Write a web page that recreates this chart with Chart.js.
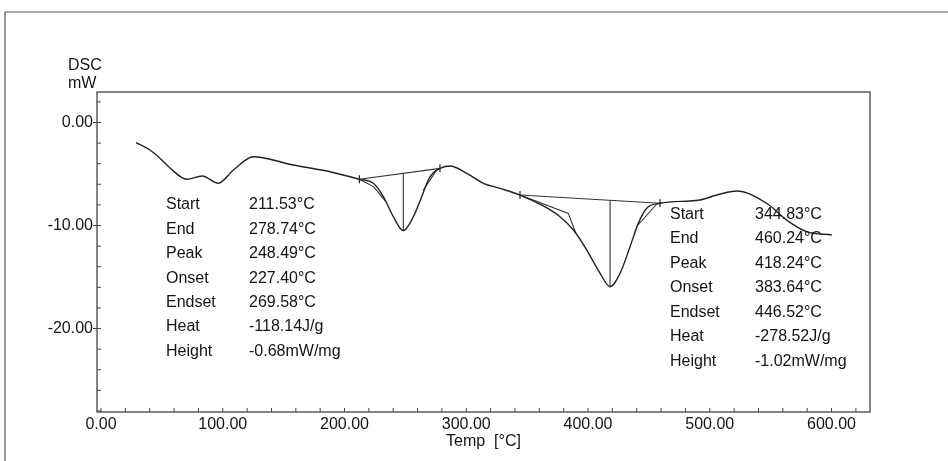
<!DOCTYPE html>
<html>
<head>
<meta charset="utf-8">
<script src="https://cdn.jsdelivr.net/npm/chart.js@4.4.1/dist/chart.umd.min.js"></script>
<style>
  html, body { margin: 0; padding: 0; background: #fff; }
  #wrap { width: 948px; height: 461px; position: relative; }
</style>
</head>
<body>
<div id="wrap"><canvas id="myChart"></canvas></div>
<script>
// DSC trace
var tempC = [28.7, 40.2, 48.4, 56.7, 70.4, 83.2, 96.3, 108.7, 125.1, 157.9, 188.1,
  212.2, 223.7, 231.9, 240.1, 248.3, 256.5, 263.4, 268.8, 272.9, 278.4,
  286.6, 300.4, 314.0, 327.7, 344.1, 363.3, 377.0, 388.0, 399.0, 409.9,
  418.1, 426.3, 434.5, 441.3, 448.2, 459.1, 491.9, 505.7, 522.1, 546.7,
  563.2, 579.6, 600.2];
var dscMw = [-1.96, -2.67, -3.48, -4.42, -5.51, -5.19, -5.90, -4.61, -3.32, -4.13, -4.78,
  -5.51, -5.90, -7.20, -9.15, -10.50, -9.15, -7.20, -5.58, -4.87, -4.45,
  -4.22, -4.93, -5.90, -6.39, -7.04, -8.10, -9.15, -10.44, -12.38, -14.64,
  -15.94, -14.64, -12.06, -9.79, -8.33, -7.84, -7.52, -7.04, -6.65, -7.84,
  -9.47, -10.60, -10.92];

// peak 1 construction lines
var base1X = [212.2, 278.4], base1Y = [-5.51, -4.45];
var drop1X = [248.3, 248.3], drop1Y = [-4.93, -10.50];
var tanL1X = [212.2, 224.0, 233.5], tanL1Y = [-5.51, -6.25, -7.60];
var tanR1X = [264.5, 275.5, 278.4], tanR1Y = [-6.60, -4.65, -4.45];
// peak 2 construction lines
var base2X = [344.1, 459.1], base2Y = [-7.04, -7.84];
var drop2X = [418.1, 418.1], drop2Y = [-7.55, -15.94];
var tanL2X = [344.1, 383.8, 390.0], tanL2Y = [-7.04, -8.82, -10.75];
var tanR2X = [441.5, 456.4, 459.1], tanR2Y = [-9.90, -7.91, -7.84];

var markX = [212.2, 278.4, 344.1, 459.1];
var markY = [-5.51, -4.45, -7.04, -7.84];

var xTicks = [0, 100, 200, 300, 400, 500, 600];
var yTicks = [-20, -10, 0];

var peak1Names = ["Start", "End", "Peak", "Onset", "Endset", "Heat", "Height"];
var peak1Vals = ["211.53°C", "278.74°C", "248.49°C", "227.40°C", "269.58°C", "-118.14J/g", "-0.68mW/mg"];
var peak2Names = ["Start", "End", "Peak", "Onset", "Endset", "Heat", "Height"];
var peak2Vals = ["344.83°C", "460.24°C", "418.24°C", "383.64°C", "446.52°C", "-278.52J/g", "-1.02mW/mg"];

function pts(xs, ys) {
  var out = [];
  for (var i = 0; i < xs.length; i++) out.push({x: xs[i], y: ys[i]});
  return out;
}

var FONT = "'Liberation Sans', Arial, sans-serif";
var INK = "#141414";

function thin(xs, ys) {
  return {
    data: pts(xs, ys), borderColor: "#333", borderWidth: 1.1,
    pointRadius: 0, tension: 0, showLine: true
  };
}

var decor = {
  id: "decor",
  afterDraw: function(chart) {
    var c = chart.ctx, a = chart.chartArea;
    var xs = chart.scales.x, ys = chart.scales.y;
    c.save();
    // outer frame (top and left)
    c.strokeStyle = "#555";
    c.lineWidth = 1.2;
    c.beginPath();
    c.moveTo(5, 461); c.lineTo(5, 12); c.lineTo(948, 12);
    c.stroke();
    // plot box
    c.strokeStyle = "#444";
    c.lineWidth = 1.3;
    c.strokeRect(a.left, a.top, a.right - a.left, a.bottom - a.top);
    // inner minor ticks
    c.lineWidth = 1;
    c.beginPath();
    for (var v = 0; v <= xs.max; v += 20) {
      var px = xs.getPixelForValue(v);
      c.moveTo(px, a.bottom); c.lineTo(px, a.bottom - 4);
    }
    for (var w = -28; w <= ys.max; w += 2) {
      var py = ys.getPixelForValue(w);
      c.moveTo(a.left, py); c.lineTo(a.left + 4, py);
    }
    c.stroke();
    // y unit label
    c.fillStyle = INK;
    c.font = "16px " + FONT;
    c.textAlign = "left";
    c.textBaseline = "middle";
    c.fillText("DSC", 68, 66);
    c.fillText("mW", 68, 84);
    // peak tables
    for (var i = 0; i < peak1Names.length; i++) {
      c.fillText(peak1Names[i], 166, 205 + i * 24.4);
      c.fillText(peak1Vals[i], 249, 205 + i * 24.4);
    }
    for (var j = 0; j < peak2Names.length; j++) {
      c.fillText(peak2Names[j], 670, 214.5 + j * 24.5);
      c.fillText(peak2Vals[j], 755, 214.5 + j * 24.5);
    }
    c.restore();
  }
};

var ctx = document.getElementById("myChart");

var myChart = new Chart(ctx, {
  type: "line",
  data: {
    datasets: [
      {
        data: pts(tempC, dscMw), borderColor: "#222", borderWidth: 1.4,
        pointRadius: 0, cubicInterpolationMode: "monotone"
      },
      thin(base1X, base1Y), thin(drop1X, drop1Y), thin(tanL1X, tanL1Y), thin(tanR1X, tanR1Y),
      thin(base2X, base2Y), thin(drop2X, drop2Y), thin(tanL2X, tanL2Y), thin(tanR2X, tanR2Y),
      {
        data: pts(markX, markY), showLine: false, pointStyle: "line",
        rotation: 90, pointRadius: 4, borderColor: "#222", borderWidth: 1.2
      }
    ]
  },
  options: {
    responsive: true,
    maintainAspectRatio: false,
    animation: false,
    layout: { padding: { left: 0, top: 92, right: 78, bottom: 0 } },
    plugins: { legend: { display: false }, tooltip: { enabled: false } },
    scales: {
      x: {
        type: "linear", min: -3.3, max: 631.6,
        afterBuildTicks: function(s) { s.ticks = xTicks.map(function(v) { return {value: v}; }); },
        afterFit: function(s) { s.height = 49; },
        grid: { display: false, drawTicks: false },
        border: { display: false },
        ticks: {
          padding: 3, color: INK, font: { size: 16, family: FONT }, maxRotation: 0,
          callback: function(v) { return Number(v).toFixed(2); }
        },
        title: {
          display: true, text: "Temp  [°C]", color: INK,
          font: { size: 16, family: FONT }, padding: { top: 0, bottom: 10 }
        }
      },
      y: {
        type: "linear", min: -28.1, max: 2.96,
        afterBuildTicks: function(s) { s.ticks = yTicks.map(function(v) { return {value: v}; }); },
        afterFit: function(s) { s.width = 97; },
        grid: { drawOnChartArea: false, drawTicks: true, tickLength: 4, color: "#444", tickColor: "#444" },
        border: { display: false },
        ticks: {
          padding: 0, color: INK, font: { size: 16, family: FONT },
          callback: function(v) { return Number(v).toFixed(2); }
        }
      }
    }
  },
  plugins: [decor]
});
</script>
</body>
</html>
